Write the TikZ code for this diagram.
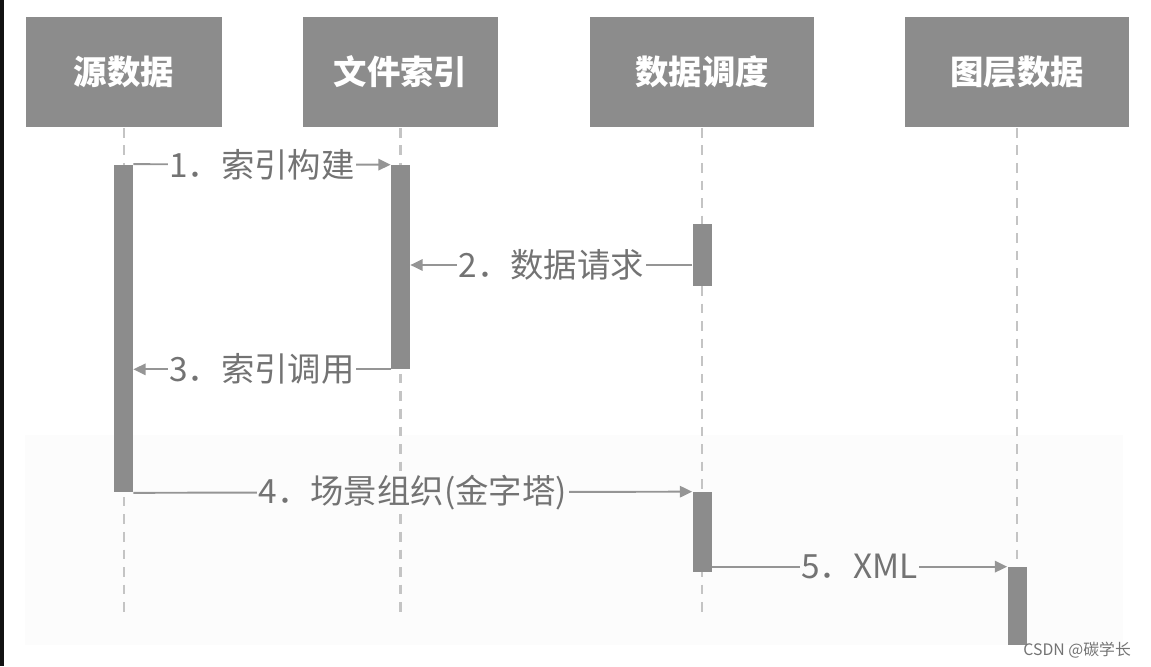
\documentclass[tikz,border=0pt]{standalone}
\usepackage{fontspec}
\setmainfont{Noto Sans CJK SC}
\usetikzlibrary{arrows.meta}
\definecolor{boxgray}{HTML}{8C8C8C}
\definecolor{linegray}{HTML}{959595}
\definecolor{lifegray}{HTML}{C4C4C4}
\definecolor{textgray}{HTML}{737373}
\definecolor{faint}{HTML}{FCFCFC}

\begin{document}
\begin{tikzpicture}[x=0.02cm,y=-0.02cm,>={Triangle[length=7pt,width=6.5pt]},
	head/.style={fill=boxgray,text=white,inner sep=0pt,minimum height=2.22cm,font=\bfseries\fontsize{19}{22}\selectfont},
	bar/.style={fill=boxgray,inner sep=0pt,minimum width=0.38cm},
	life/.style={draw=lifegray,line width=1.6pt,dash pattern=on 5.5pt off 4.5pt},
	msg/.style={draw=linegray,line width=1.1pt},
	lbl/.style={fill=white,text=textgray,inner sep=1pt,font=\fontsize{19}{22}\selectfont}]
	\useasboundingbox (0,0) rectangle (1151,666);
	\fill[black!93] (0,0) rectangle (4,666);
	\fill[faint] (25,435) rectangle (1123,645);

	% heads
	\node[head,minimum width=3.92cm] (src) at (124,72) {源数据};
	\node[head,minimum width=3.90cm] (idx) at (400.5,72) {文件索引};
	\node[head,minimum width=4.48cm] (sch) at (702,72) {数据调度};
	\node[head,minimum width=4.48cm] (lyr) at (1017,72) {图层数据};

	% lifelines
	\coordinate (srcend) at (124,615);
	\coordinate (idxend) at (400.5,615);
	\coordinate (schend) at (702,615);
	\coordinate (lyrend) at (1017,567);
	\draw[life] (src.south) -- (srcend);
	\draw[life] (idx.south) -- (idxend);
	\draw[life] (sch.south) -- (schend);
	\draw[life] (lyr.south) -- (lyrend);

	% activation bars
	\node[bar,minimum height=6.56cm] (srcbar) at (123.5,328.5) {};
	\node[bar,minimum height=4.08cm] (idxbar) at (400.5,267) {};
	\node[bar,minimum height=1.24cm] (schbar1) at (702,255) {};
	\node[bar,minimum height=1.60cm] (schbar2) at (702,532) {};
	\node[bar,minimum height=1.56cm] (lyrbar) at (1017,606) {};

	% messages
	\draw[msg,->] (srcbar.north east) -- (idxbar.north west) node[lbl,midway] {1．索引构建};
	\coordinate (m2) at (0,265);
	\draw[msg,->] (schbar1.west |- m2) -- (idxbar.east |- m2) node[lbl,midway] {2．数据请求};
	\draw[msg,->] (idxbar.south west) -- (srcbar.east |- idxbar.south) node[lbl,midway] {3．索引调用};
	\draw[msg,->] (srcbar.south east) -- (schbar2.north west) node[lbl,fill=faint,midway] {4．场景组织(金字塔)};
	\draw[msg,->] (schbar2.east |- lyrbar.north) -- (lyrbar.north west) node[lbl,fill=faint,midway] {5．XML};

	\node[text=black!55,font=\fontsize{9}{11}\selectfont,anchor=east] (mark) at (1137,650) {CSDN @碳学长};
\end{tikzpicture}
\end{document}
